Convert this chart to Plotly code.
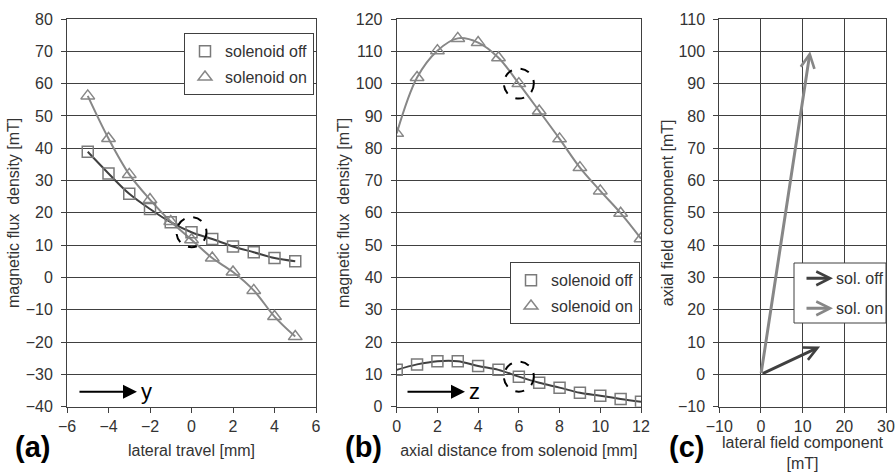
import plotly.graph_objects as go

# ---------------- data ----------------
travel_mm = [-5, -4, -3, -2, -1, 0, 1, 2, 3, 4, 5]
travel_off = [38.9, 32.2, 25.9, 21.2, 17.1, 14.0, 11.9, 9.6, 7.8, 6.0, 5.0]
travel_on = [56.2, 43.0, 31.9, 24.1, 17.3, 11.7, 6.0, 1.7, -4.0, -12.1, -18.3]

axial_mm = [0, 1, 2, 3, 4, 5, 6, 7, 8, 9, 10, 11, 12]
axial_off = [11.4, 13.1, 14.1, 14.1, 12.6, 11.4, 9.3, 7.4, 5.9, 4.3, 3.4, 2.4, 1.5]
axial_on = [84.6, 101.9, 110.2, 114.0, 112.7, 108.0, 100.0, 91.5, 82.9, 74.0, 66.8, 59.9, 52.0]

vec_names = ["sol. off", "sol. on"]
vec_lateral = [14.2, 11.8]
vec_axial = [8.6, 100.0]

series_names = ["solenoid off", "solenoid on"]
highlight_travel_idx = 5   # y = 0 mm
highlight_axial_idx = 6    # z = 6 mm

# ---------------- geometry ----------------
W, H = 896, 473
def X(px):
    return px / W
def Y(py):
    return 1 - py / H

FONT = "Liberation Sans, Arial, sans-serif"
TXT = "#333333"
DARK = "#404040"
LIGHT = "#878787"
MK = "#7a7a7a"

ydom = [Y(406.7), Y(19)]
xd1 = [X(67), X(316)]
xd2 = [X(396.7), X(641)]
xd3 = [X(719.3), X(886)]

fig = go.Figure()

def add_series(x, off, on, xa, ya, leg):
    fig.add_trace(go.Scatter(x=x, y=off, mode="lines", line=dict(color=DARK, width=2, shape="spline", smoothing=1),
                             xaxis=xa, yaxis=ya, showlegend=False, hoverinfo="skip"))
    fig.add_trace(go.Scatter(x=x, y=on, mode="lines", line=dict(color=LIGHT, width=2, shape="spline", smoothing=1),
                             xaxis=xa, yaxis=ya, showlegend=False, hoverinfo="skip"))
    fig.add_trace(go.Scatter(x=x, y=off, mode="markers", name=series_names[0],
                             marker=dict(symbol="square-open", size=11, color=MK, line=dict(width=1.5)),
                             xaxis=xa, yaxis=ya, legend=leg, legendgroup=leg + "a"))
    fig.add_trace(go.Scatter(x=x, y=on, mode="markers", name=series_names[1],
                             marker=dict(symbol="triangle-up-open", size=12, color=LIGHT, line=dict(width=1.5)),
                             xaxis=xa, yaxis=ya, legend=leg, legendgroup=leg + "b"))

add_series(travel_mm, travel_off, travel_on, "x", "y", "legend")
add_series(axial_mm, axial_off, axial_on, "x2", "y2", "legend2")

# invisible trace to anchor panel c
fig.add_trace(go.Scatter(x=[0] + vec_lateral, y=[0] + vec_axial, mode="markers", marker=dict(opacity=0),
                         xaxis="x3", yaxis="y3", showlegend=False, hoverinfo="skip"))

axis_common = dict(showline=True, linecolor=DARK, linewidth=1, mirror=True, ticks="outside", ticklen=5,
                   tickcolor=DARK, gridcolor=DARK, gridwidth=1, zeroline=False,
                   tickfont=dict(family=FONT, size=16, color=TXT), automargin=False,
                   ticklabeloverflow="allow")

def xaxis(dom, rng, dt, title, grid, anchor, standoff=10):
    d = dict(axis_common)
    d.update(domain=dom, range=rng, dtick=dt, showgrid=grid, anchor=anchor,
             title=dict(text=title, font=dict(family=FONT, size=16, color=TXT), standoff=standoff))
    return d

def yaxis(rng, dt, title, anchor, standoff=6):
    d = dict(axis_common)
    d.update(domain=ydom, range=rng, dtick=dt, showgrid=True, anchor=anchor, ticklabelstandoff=5,
             title=dict(text=title, font=dict(family=FONT, size=16, color=TXT), standoff=standoff))
    return d

fig.update_layout(
    width=W, height=H, margin=dict(l=0, r=0, t=0, b=0),
    paper_bgcolor="white", plot_bgcolor="white",
    font=dict(family=FONT, color=TXT),
    xaxis=xaxis(xd1, [-6, 6], 2, "lateral travel [mm]", False, "y"),
    yaxis=yaxis([-40, 80], 10, "magnetic flux  density [mT]", "x", standoff=2),
    xaxis2=xaxis(xd2, [0, 12], 2, "axial distance from solenoid [mm]", False, "y2"),
    yaxis2=yaxis([0, 120], 10, "magnetic flux  density [mT]", "x2", standoff=2),
    xaxis3=xaxis(xd3, [-10, 30], 10, "", True, "y3"),
    yaxis3=yaxis([-10, 110], 10, "axial field component [mT]", "x3", standoff=0),
    legend=dict(x=X(184), y=Y(33.3), xanchor="left", yanchor="top", bgcolor="white",
                bordercolor=DARK, borderwidth=1, font=dict(family=FONT, size=16, color=TXT),
                tracegroupgap=2, traceorder="grouped"),
    legend2=dict(x=X(510), y=Y(262.3), xanchor="left", yanchor="top", bgcolor="white",
                 bordercolor=DARK, borderwidth=1, font=dict(family=FONT, size=16, color=TXT),
                 tracegroupgap=2, traceorder="grouped"),
    showlegend=True,
)

shapes = []
def circle(xref, yref, cx, cy):
    shapes.append(dict(type="circle", xref=xref, yref=yref, xsizemode="pixel", ysizemode="pixel",
                       xanchor=cx, yanchor=cy, x0=-15, x1=15, y0=-15, y1=15,
                       line=dict(color="black", width=2, dash="dash")))

circle("x", "y", travel_mm[highlight_travel_idx], travel_off[highlight_travel_idx])
circle("x2", "y2", axial_mm[highlight_axial_idx], axial_on[highlight_axial_idx])
circle("x2", "y2", axial_mm[highlight_axial_idx], axial_off[highlight_axial_idx])

# legend box for panel (c)
shapes.append(dict(type="rect", xref="paper", yref="paper", x0=X(794), x1=X(886),
                   y0=Y(323), y1=Y(263), line=dict(color=DARK, width=1), fillcolor="white",
                   layer="above"))
fig.update_layout(shapes=shapes)

ann = []
# x-axis title of panel (c), two lines
ann.append(dict(xref="x3 domain", yref="paper", x=0.5, y=0, text="lateral field component<br>[mT]",
                showarrow=False, xanchor="center", yanchor="bottom", borderpad=0,
                font=dict(family=FONT, size=16, color=TXT)))

# direction arrows in (a) and (b)
for xr, yr, hx, lab in [("x domain", "y domain", 0.281, "y"), ("x2 domain", "y2 domain", 0.2796, "z")]:
    ann.append(dict(xref=xr, yref=yr, x=hx, y=0.0387, ax=-59, ay=0, axref="pixel", ayref="pixel",
                    text="", showarrow=True, arrowhead=2, arrowsize=1.4, arrowwidth=2, arrowcolor="black"))
    ann.append(dict(xref=xr, yref=yr, x=hx + 0.01, y=0.0387, text=lab, showarrow=False, xanchor="left",
                    yanchor="middle", font=dict(family=FONT, size=22, color="black")))

# field vectors in (c)
vec_cols = [DARK, LIGHT]
for i in range(len(vec_names)):
    ann.append(dict(xref="x3", yref="y3", axref="x3", ayref="y3", x=vec_lateral[i], y=vec_axial[i],
                    ax=0, ay=0, text="", showarrow=True, arrowhead=5, arrowsize=0.9, arrowwidth=3,
                    arrowcolor=vec_cols[i]))
    ly = Y(278.3 + 30 * i)
    ann.append(dict(xref="paper", yref="paper", x=X(833), y=ly, ax=-28, ay=0, text="", showarrow=True,
                    arrowhead=5, arrowsize=0.9, arrowwidth=3, arrowcolor=vec_cols[i]))
    ann.append(dict(xref="paper", yref="paper", x=X(834), y=ly, text=vec_names[i], showarrow=False,
                    xanchor="left", yanchor="middle", font=dict(family=FONT, size=16, color=TXT)))

# panel labels
for px, lab in [(12.7, "(a)"), (343, "(b)"), (667, "(c)")]:
    ann.append(dict(xref="paper", yref="paper", x=X(px), y=Y(447), text="<b>%s</b>" % lab,
                    showarrow=False, xanchor="left", yanchor="middle",
                    font=dict(family=FONT, size=29, color="black")))

fig.update_layout(annotations=ann)
fig.write_html("out.html", config={"displayModeBar": False},
               post_script="document.body.style.margin='0px';")
